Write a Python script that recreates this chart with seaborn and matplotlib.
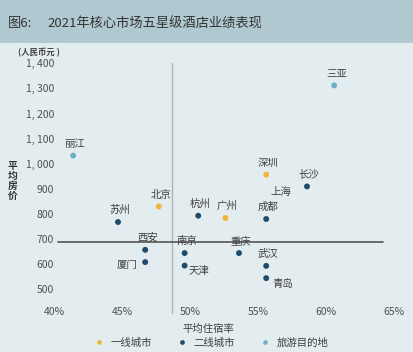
import pandas as pd
import seaborn as sns
import matplotlib.pyplot as plt
from matplotlib.patches import Rectangle

# data
cities = ['北京', '广州', '深圳',
          '苏州', '西安', '厦门', '杭州', '南京', '天津', '成都', '长沙', '重庆', '武汉', '青岛',
          '丽江', '三亚']
occupancy = [47.7, 52.6, 55.6,
             44.7, 46.7, 46.7, 50.6, 49.6, 49.6, 55.6, 58.6, 53.6, 55.6, 55.6,
             41.4, 60.6]
adr = [829, 783, 956,
       767, 656, 607, 792, 643, 593, 779, 909, 643, 592, 543,
       1032, 1312]
tiers = ['一线城市'] * 3 + ['二线城市'] * 11 + ['旅游目的地'] * 2
tier_order = ['一线城市', '二线城市', '旅游目的地']
tier_colors = ['#F4B43A', '#1F4B6B', '#6FAFC6']

mean_occ = 48.7
mean_adr = 687
x_ticks = [40, 45, 50, 55, 60, 65]
y_ticks = [500, 600, 700, 800, 900, 1000, 1100, 1200, 1300, 1400]

df = pd.DataFrame({'city': cities, 'occ': occupancy, 'adr': adr, 'tier': tiers})

sns.set_theme(style='white')
plt.rcParams['font.family'] = ['Noto Sans CJK SC', 'DejaVu Sans']

bg = '#E3ECEF'
fig = plt.figure(figsize=(4.13, 3.52), dpi=100, facecolor=bg)
ax = fig.add_axes([0.131, 0.108, 0.823, 0.712])
ax.set_facecolor(bg)

sns.scatterplot(data=df, x='occ', y='adr', hue='tier', hue_order=tier_order,
                palette=tier_colors, s=18, edgecolor='none', ax=ax)

# labels above points, a few to the side
side = {'厦门': (-13, -2), '天津': (10, -4), '青岛': (12, -4)}
for c, x, y in zip(cities, occupancy, adr):
  dx, dy = side.get(c, (1.5, 8.5))
  ax.annotate(c, (x, y), xytext=(dx, dy), textcoords='offset points',
              ha='center', va='center', fontsize=7.5, color='#404040')
ax.text(56.7, 887, '上海', ha='center', va='center', fontsize=7.5, color='#404040')

ax.axvline(mean_occ, color='#AEB6BA', lw=1)
ax.axhline(mean_adr, xmin=0.012, xmax=0.968, color='#555555', lw=1.2)

ax.set_xlim(40, 65)
ax.set_ylim(400, 1400)
ax.set_xticks(x_ticks)
ax.set_xticklabels([f'{t}%' for t in x_ticks])
ax.set_yticks(y_ticks)
ax.set_yticklabels([f'{t // 1000}, {t % 1000:03d}' if t >= 1000 else str(t) for t in y_ticks])
ax.tick_params(axis='both', length=0, labelsize=7.5, labelcolor='#505050')
ax.tick_params(axis='x', pad=-5)
ax.tick_params(axis='y', pad=0)
for s in ax.spines.values():
  s.set_visible(False)
ax.set_xlabel('')
ax.set_ylabel('')

sns.move_legend(ax, 'center', bbox_to_anchor=(0.505, 0.027), bbox_transform=fig.transFigure,
                ncol=3, frameon=False, title=None, fontsize=7.5, handletextpad=0.1,
                columnspacing=1.9, markerscale=0.8)
for t in ax.get_legend().get_texts():
  t.set_color('#404040')

# title bar
fig.patches.append(Rectangle((0, 0.878), 1, 0.122, transform=fig.transFigure,
                             facecolor='#B0C9D0', edgecolor='none', zorder=0))
fig.text(0.019, 0.932, '图6:', fontsize=9.5, color='#333333', va='center')
fig.text(0.116, 0.932, '2021年核心市场五星级酒店业绩表现', fontsize=9.5, color='#333333', va='center')

fig.text(0.044, 0.849, '(人民币元 )', fontsize=6, color='#404040', fontweight='bold', va='center')
fig.text(0.03, 0.486, '平\n均\n房\n价', fontsize=7, color='#333333', fontweight='bold',
         ha='center', va='center', linespacing=1.0)
fig.text(0.505, 0.065, '平均住宿率', fontsize=7.5, color='#404040', ha='center', va='center')

fig.savefig('out.png', dpi=100, facecolor=bg)
